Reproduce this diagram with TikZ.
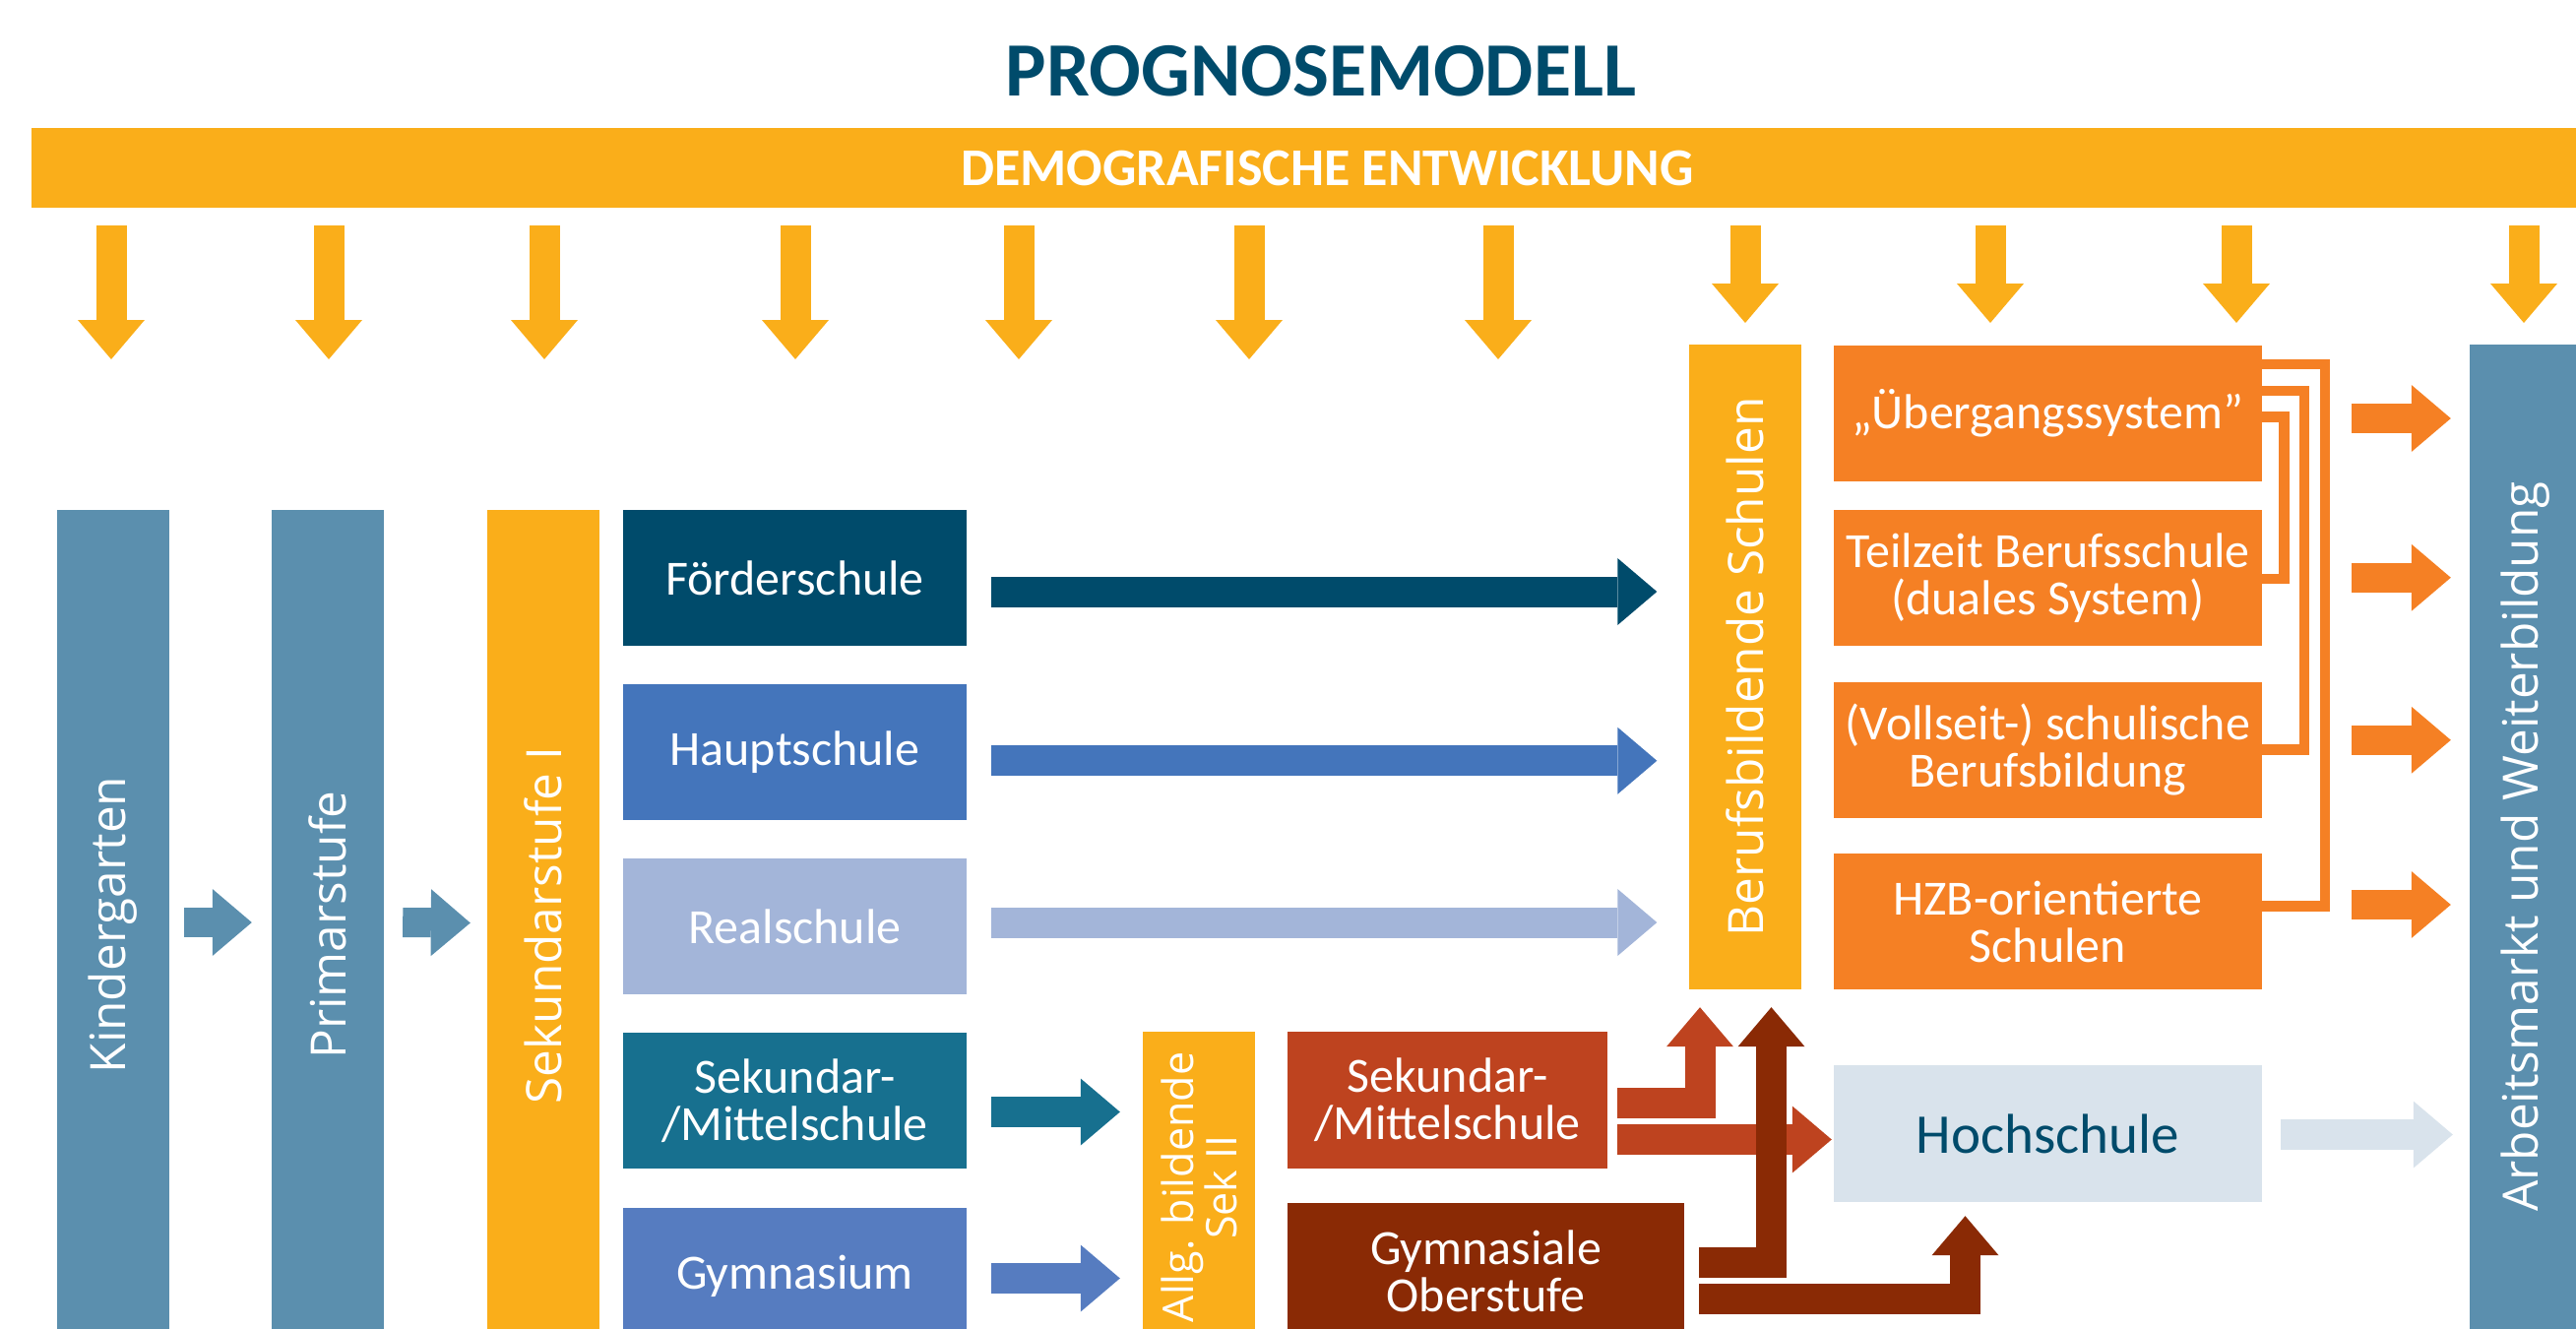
\documentclass[tikz,border=0pt]{standalone}
\usepackage{fontspec}
\setmainfont{Carlito}
\newfontfamily\opensans{Open Sans}
\usetikzlibrary{arrows.meta,calc}

\definecolor{steel}{HTML}{5B8FAE}
\definecolor{amber}{HTML}{FAAE1A}
\definecolor{navy}{HTML}{004B6B}
\definecolor{hauptblue}{HTML}{4475BB}
\definecolor{realblue}{HTML}{A3B5D9}
\definecolor{sekteal}{HTML}{17708F}
\definecolor{gymblue}{HTML}{567CC0}
\definecolor{rust}{HTML}{BE431F}
\definecolor{oberbrown}{HTML}{8A2A05}
\definecolor{orangebox}{HTML}{F58024}
\definecolor{hochgrey}{HTML}{D9E3EC}

\tikzset{
	column/.style = {minimum width = 114pt, inner sep = 0pt},
	coltext/.style = {rotate = 90, text = white, align = center, inner sep = 0pt, font = \opensans\fontsize{49.5}{52}\selectfont},
	school/.style = {minimum width = 349pt, minimum height = 138pt, inner sep = 0pt, text = white, align = center, font = \fontsize{50}{48}\selectfont},
	blockarrow/.style = {line width = 31pt, -{Triangle[length = 40pt, width = 68pt, line width = 0pt]}},
	bracketline/.style = {draw = orangebox, line width = 10.5pt},
}

\begin{document}
\begin{tikzpicture}[x = 1pt, y = -1pt]
		\useasboundingbox (0,0) rectangle (2617,1349);
		\clip (0,0) rectangle (2617,1349);
		
		\node (title) at (1342,72) [text = navy, font = \bfseries\fontsize{78}{80}\selectfont] {PROGNOSEMODELL};
		\node (band) at (1348.5,170.5) [fill = amber, minimum width = 2633pt, minimum height = 81pt, inner sep = 0pt, text = white, font = \bfseries\fontsize{54}{56}\selectfont] {DEMOGRAFISCHE ENTWICKLUNG};
		
		% columns
		\node (kinder) at (115,939.5) [column, fill = steel, minimum height = 843pt, label = {[coltext]center:Kindergarten}] {};
		\node (prim) at (333,939.5) [column, fill = steel, minimum height = 843pt, label = {[coltext]center:Primarstufe}] {};
		\node (sek1) at (552,940) [column, fill = amber, minimum height = 844pt, label = {[coltext]center:Sekundarstufe I}] {};
		\node (berufs) at (1772.5,677.5) [column, fill = amber, minimum height = 655pt, label = {[coltext]center:Berufsbildende Schulen}] {};
		\node (allg) at (1218,1206) [column, fill = amber, minimum height = 316pt, label = {[coltext, font = \opensans\fontsize{43}{41}\selectfont]center:Allg. bildende\\Sek II}] {};
		\node (arbeit) at (2566,860) [column, fill = steel, minimum height = 1020pt, label = {[coltext]center:Arbeitsmarkt und Weiterbildung}] {};
		
		% schools
		\node (foerder) at (807.5,587) [school, fill = navy] {Förderschule};
		\node (haupt) at (807.5,763.75) [school, fill = hauptblue] {Hauptschule};
		\node (real) at (807.5,941) [school, fill = realblue] {Realschule};
		\node (sekm) at (807.5,1118) [school, fill = sekteal] {Sekundar-\\/Mittelschule};
		\node (gym) at (807.5,1296) [school, fill = gymblue] {Gymnasium};
		
		\node (sekmii) at (1470.5,1117.5) [school, fill = rust, minimum width = 325pt, minimum height = 139pt] {Sekundar-\\/Mittelschule};
		\node (gymob) at (1509.5,1291) [school, fill = oberbrown, minimum width = 403pt] {Gymnasiale\\Oberstufe};
		
		\node (uebergang) at (2080.5,420) [school, fill = orangebox, minimum width = 435pt] {„Übergangssystem”};
		\node (teilzeit) at (2080.5,586.75) [school, fill = orangebox, minimum width = 435pt] {Teilzeit Berufsschule\\(duales System)};
		\node (vollzeit) at (2080.5,761.75) [school, fill = orangebox, minimum width = 435pt] {(Vollseit-) schulische\\Berufsbildung};
		\node (hzb) at (2080.5,936) [school, fill = orangebox, minimum width = 435pt] {HZB-orientierte\\Schulen};
		\node (hoch) at (2080.5,1151.5) [school, fill = hochgrey, minimum width = 435pt, minimum height = 139pt, text = navy, font = \fontsize{57}{57}\selectfont] {Hochschule};
		
		% demografie
		\foreach \x [count = \i] in {113,334,553,808,1035,1269,1522} {
			\coordinate (d\i) at (\x,365);
			\draw [blockarrow, amber, shorten <= 18pt] (band.south -| d\i) -- (d\i);
		}
		\foreach \x [count = \i] in {1773,2022,2272,2564} {
			\coordinate (e\i) at (\x,328);
			\draw [blockarrow, amber, shorten <= 18pt] (band.south -| e\i) -- (e\i);
		}
		
		\draw [blockarrow, steel, line width = 30pt] ($(kinder.east)+(15,-2.5)$) -- ($(prim.west)+(-20,-2.5)$);
		\draw [blockarrow, steel, line width = 30pt] ($(prim.east)+(19,-2.5)$) -- ($(sek1.west)+(-17,-2.5)$);
		
		\draw [blockarrow, navy] ($(foerder.east)+(25,14)$) -- ($(foerder.east -| berufs.west)+(-32,14)$);
		\draw [blockarrow, hauptblue] ($(haupt.east)+(25,9)$) -- ($(haupt.east -| berufs.west)+(-32,9)$);
		\draw [blockarrow, realblue] ($(real.east)+(25,-4)$) -- ($(real.east -| berufs.west)+(-32,-4)$);
		\draw [blockarrow, sekteal] ($(sekm.east)+(25,11.5)$) -- ($(sekm.east -| allg.west)+(-23,11.5)$);
		\draw [blockarrow, gymblue] ($(gym.east)+(25,2.5)$) -- ($(gym.east -| allg.west)+(-23,2.5)$);
		
		\draw [blockarrow, rust] ($(sekmii.east)+(10,3)$) -| ($(berufs.south)+(-45.5,18)$);
		\draw [blockarrow, rust] ($(sekmii.east)+(10,40)$) -- ($(sekmii.east -| hoch.west)+(-2,40)$);
		\draw [blockarrow, oberbrown] ($(gymob.east)+(15,-8.5)$) -| ($(berufs.south)+(27,18)$);
		\draw [blockarrow, oberbrown] ($(gymob.east)+(15,28.5)$) -| ($(hoch.south)+(-84,14)$);
		
		\draw [blockarrow, hochgrey] ($(hoch.east)+(19,1)$) -- ($(hoch.east -| arbeit.west)+(-17,1)$);
		
		% berufsbildung
		\draw [bracketline] ($(uebergang.east)+(0,3.6)$) -| ($(teilzeit.east)+(22.4,1.2)$) -- ($(teilzeit.east)+(0,1.2)$);
		\draw [bracketline] ($(uebergang.east)+(0,-23)$) -| ($(vollzeit.east)+(43,-0.3)$) -- ($(vollzeit.east)+(0,-0.3)$);
		\draw [bracketline] ($(uebergang.east)+(0,-50)$) -| ($(hzb.east)+(63.7,-15.5)$) -- ($(hzb.east)+(0,-15.5)$);
		
		\foreach \b/\dy in {uebergang/5, teilzeit/0, vollzeit/-10, hzb/-17}
			\draw [blockarrow, orangebox, line width = 30pt] ($(\b.east)+(91,\dy)$) -- ($(arbeit.west |- \b.east)+(-19,\dy)$);
\end{tikzpicture}
\end{document}
